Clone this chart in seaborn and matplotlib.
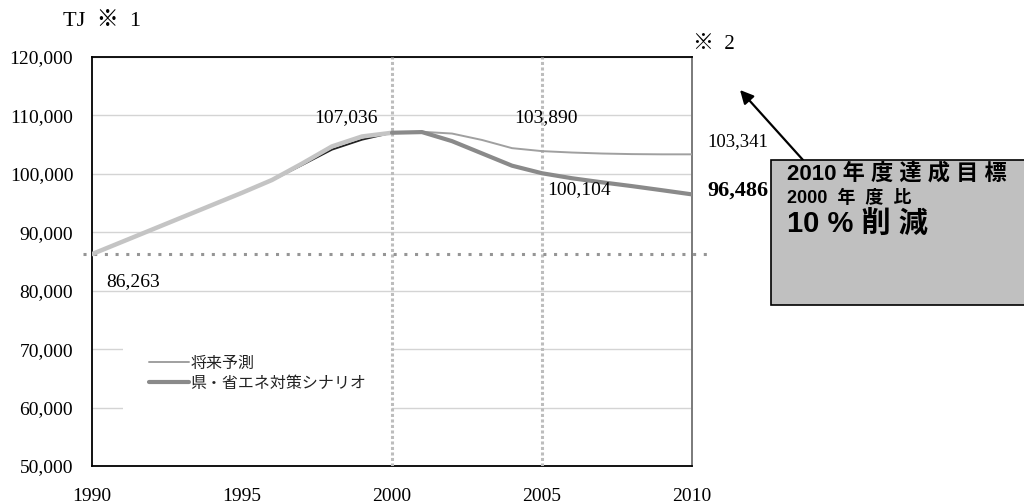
import matplotlib
matplotlib.use("Agg")
import matplotlib.pyplot as plt
from matplotlib.patches import Rectangle
import seaborn as sns
import pandas as pd

# --- data -------------------------------------------------------------
years_rec = list(range(1990, 2001))
record_light = [86263, 88360, 90460, 92560, 94660, 96760, 98950, 101750, 104700, 106400, 107036]
record_dark = [86263, 88360, 90460, 92560, 94660, 96760, 98900, 101500, 104150, 105850, 107036]

years_fut = list(range(2000, 2011))
forecast = [107036, 107200, 106900, 105800, 104400, 103890, 103650, 103480, 103380, 103341, 103341]
scenario = [107036, 107150, 105600, 103500, 101400, 100104, 99250, 98550, 97900, 97200, 96486]

base_value = 86263
legend_labels = ["将来予測", "県・省エネ対策シナリオ"]
x_ticks = [1990, 1995, 2000, 2005, 2010]
y_ticks = list(range(50000, 120001, 10000))
target_lines = ["2010 年 度 達 成 目 標", "2000  年  度  比", "10 % 削 減"]

# --- style ------------------------------------------------------------
sns.set_theme(style="white")
plt.rcParams["font.family"] = ["Liberation Serif", "Noto Sans CJK JP", "DejaVu Sans"]
SERIF = ["Liberation Serif", "Noto Sans CJK JP"]
GOTHIC = ["Noto Sans CJK JP", "DejaVu Sans"]
BOXFONT = ["Liberation Sans", "Noto Sans CJK JP"]

fig = plt.figure(figsize=(10.24, 5.04), dpi=100)
ax = fig.add_axes([92 / 1024, 38 / 504, 600 / 1024, 409 / 504])

df_rec = pd.DataFrame({"year": years_rec, "light": record_light, "dark": record_dark})
df_fut = pd.DataFrame({"year": years_fut, "forecast": forecast, "scenario": scenario})

# reference lines
ax.axvline(2000, color="#bdbdbd", lw=2.2, ls=(0, (1, 0.8)), zorder=2.7)
ax.axvline(2005, color="#bdbdbd", lw=2.2, ls=(0, (1, 0.8)), zorder=2.7)
ax.axhline(base_value, xmin=-0.015, xmax=1.033, color="#959595", lw=2.2,
           ls=(0, (1, 2.5)), clip_on=False, zorder=2.8)

# record (1990-2000)
sns.lineplot(data=df_rec, x="year", y="dark", ax=ax, color="#222222", lw=1.4, zorder=3)
sns.lineplot(data=df_rec, x="year", y="light", ax=ax, color="#c4c4c4", lw=3.2, zorder=4)

# outlook (2000-2010)
sns.lineplot(data=df_fut, x="year", y="forecast", ax=ax, color="#a0a0a0", lw=1.4,
             zorder=5, label=legend_labels[0])
sns.lineplot(data=df_fut, x="year", y="scenario", ax=ax, color="#8a8a8a", lw=3.0,
             zorder=5, label=legend_labels[1])

ax.set_xlim(1990, 2010)
ax.set_ylim(50000, 120000)
ax.set_xticks(x_ticks)
ax.set_yticks(y_ticks)
ax.set_yticklabels([f"{v:,}" for v in y_ticks])
ax.set_xlabel("")
ax.set_ylabel("")
ax.tick_params(axis="both", direction="in", length=4, width=1, colors="black",
               labelsize=14, labelcolor="black")
ax.tick_params(axis="y", pad=13.5)
ax.tick_params(axis="x", pad=15.5)
for lab in ax.get_xticklabels() + ax.get_yticklabels():
    lab.set_family(SERIF)

ax.yaxis.grid(True, color="#d4d4d4", lw=1)
ax.set_axisbelow(True)

for side in ["left", "bottom", "top"]:
    ax.spines[side].set_color("black")
    ax.spines[side].set_linewidth(1.3)
ax.spines["right"].set_color("#7a7a7a")
ax.spines["right"].set_linewidth(1.4)

# legend
leg = ax.legend(loc="upper left", bbox_to_anchor=(0.0517, 0.335), borderaxespad=0,
                frameon=True, facecolor="white", edgecolor="none", framealpha=1,
                fancybox=False, borderpad=1.6, handlelength=2.55, handletextpad=0.05,
                labelspacing=0.2, prop={"family": GOTHIC, "size": 11.5})
leg.set_zorder(2.5)
for t in leg.get_texts():
    t.set_color("#222222")

# value labels
def value_label(x, y, text, dx, dy, ha, size=14, weight="normal"):
    ax.annotate(text, xy=(x, y), xytext=(dx, dy), textcoords="offset pixels",
                ha=ha, va="center", fontsize=size, fontweight=weight,
                family=SERIF, color="black", annotation_clip=False, zorder=6)

value_label(2000, 107036, "107,036", -14, 15, "right")
value_label(1990, 86263, "86,263", 14, -27, "left")
value_label(2005, 103890, "103,890", 4, 34, "center")
value_label(2005, 100104, "100,104", 5, -16, "left")
value_label(2010, 103341, "103,341", 15, 13, "left", size=13.5)
value_label(2010, 96486, "96,486", 15, 4, "left", size=16, weight="bold")

# unit and notes
fig.text(63 / 1024, 1 - 22 / 504, "TJ  ※  1", fontsize=16, family=SERIF,
         ha="left", va="center", color="black")
fig.text(693 / 1024, 1 - 44 / 504, "※  2", fontsize=15, family=SERIF,
         ha="left", va="center", color="black")

# target box with arrow
box = Rectangle((771 / 1024, 1 - 305 / 504), 0.3, 145 / 504, transform=fig.transFigure,
                facecolor="#c0c0c0", edgecolor="black", lw=1.2, zorder=1)
fig.patches.append(box)
fig.text(787 / 1024, 1 - 174 / 504, target_lines[0], fontsize=16, family=BOXFONT,
         fontweight="bold", ha="left", va="center", color="black")
fig.text(787 / 1024, 1 - 198 / 504, target_lines[1], fontsize=13, family=BOXFONT,
         fontweight="bold", ha="left", va="center", color="black")
fig.text(787 / 1024, 1 - 224 / 504, target_lines[2], fontsize=21, family=BOXFONT,
         fontweight="bold", ha="left", va="center", color="black")

ax.annotate("", xy=(740, 504 - 90), xycoords="figure pixels",
            xytext=(803, 504 - 160), textcoords="figure pixels",
            arrowprops=dict(arrowstyle="-|>", color="black", lw=1.6, mutation_scale=20,
                            shrinkA=0, shrinkB=0),
            annotation_clip=False)

fig.savefig("out.png", dpi=100, facecolor="white")
